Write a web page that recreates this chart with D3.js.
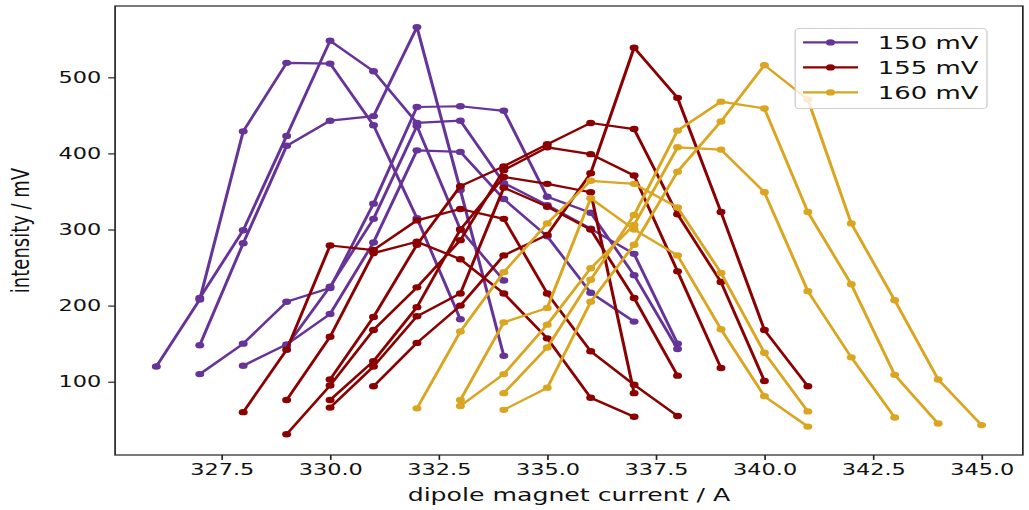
<!DOCTYPE html>
<html>
<head>
<meta charset="utf-8">
<script src="https://cdn.jsdelivr.net/npm/d3@7"></script>
<style>
  body { margin: 0; background: #fff; }
  svg { display: block; font-family: "DejaVu Sans", sans-serif; }
</style>
</head>
<body>
<div id="chart"></div>
<script>
// one list per bias voltage, each scan is [dipole current (A), intensity (mV)]
var scans150 = [
    [[326, 120], [327, 208], [328, 429], [329, 519], [330, 518], [331, 437], [332, 315], [333, 182]],
    [[327, 210], [328, 299], [329, 423], [330, 548], [331, 508], [332, 440], [333, 443], [334, 361], [335, 332], [336, 301], [337, 268], [338, 150]],
    [[327, 148], [328, 282], [329, 410], [330, 443], [331, 449], [332, 566], [333, 352], [334, 134]],
    [[327, 110], [328, 150], [329, 205], [330, 223], [331, 334], [332, 461], [333, 462], [334, 456], [335, 343], [336, 322], [337, 240], [338, 143]],
    [[328, 121], [329, 149], [330, 189], [331, 283], [332, 404], [333, 402], [334, 340], [335, 291], [336, 217], [337, 179]],
    [[329, 147], [330, 225], [331, 314], [332, 436], [333, 300], [334, 233]]
];

var scans155 = [
    [[328, 60], [329, 142], [330, 279], [331, 273], [332, 312], [333, 327], [334, 314], [335, 216], [336, 140], [337, 96], [338, 55]],
    [[329, 76], [330, 159], [331, 269], [332, 284], [333, 261], [334, 216], [335, 157], [336, 79], [337, 54]],
    [[329, 31], [330, 95], [331, 168], [332, 224], [333, 286], [334, 378], [335, 408], [336, 399], [337, 371], [338, 245], [339, 118]],
    [[330, 103], [331, 185], [332, 280], [333, 357], [334, 383], [335, 412], [336, 440], [337, 432], [338, 320], [339, 231], [340, 101]],
    [[330, 76], [331, 127], [332, 198], [333, 300], [334, 369], [335, 360], [336, 349], [337, 85]],
    [[330, 66], [331, 120], [332, 186], [333, 216], [334, 355], [335, 330], [336, 300], [337, 210], [338, 108]],
    [[331, 94], [332, 151], [333, 200], [334, 266], [335, 293], [336, 374], [337, 539], [338, 473], [339, 323], [340, 168], [341, 94]]
];

var scans160 = [
    [[332, 65], [333, 166], [334, 244], [335, 308], [336, 364], [337, 360], [338, 329], [339, 243], [340, 138], [341, 61]],
    [[333, 76], [334, 178], [335, 197], [336, 341], [337, 300], [338, 266], [339, 169], [340, 81], [341, 41]],
    [[333, 68], [334, 110], [335, 175], [336, 249], [337, 306], [338, 408], [339, 405], [340, 349], [341, 219], [342, 132], [343, 53]],
    [[334, 85], [335, 145], [336, 234], [337, 319], [338, 430], [339, 468], [340, 459], [341, 323], [342, 228], [343, 109], [344, 45]],
    [[334, 63], [335, 92], [336, 205], [337, 280], [338, 376], [339, 442], [340, 516], [341, 471], [342, 308], [343, 207], [344, 103], [345, 43]]
];

var seriesLabels = ['150 mV', '155 mV', '160 mV'];
var seriesColors = ['rebeccapurple', 'darkred', 'goldenrod'];
var xTicks = [327.5, 330, 332.5, 335, 337.5, 340, 342.5, 345];
var yTicks = [100, 200, 300, 400, 500];

var svgWidth = 1029;
var svgHeight = 510;

// the picture is squeezed sideways by this factor; draw in plain units, then stretch
var stretch = 1.4;

var plot = { left: 82.2, right: 730.6, top: 6, bottom: 455 };

var svg = d3.select('#chart')
    .append('svg')
    .attr('width', svgWidth)
    .attr('height', svgHeight);

var chartGroup = svg.append('g')
    .attr('transform', `scale(${stretch}, 1)`);

var allScans = [scans150, scans155, scans160];
var allPoints = d3.merge(allScans.map(s => d3.merge(s)));

// matplotlib style 5% margins
var xExt = d3.extent(allPoints, d => d[0]);
var xPad = (xExt[1] - xExt[0]) * 0.05;
var xScale = d3.scaleLinear()
    .domain([xExt[0] - xPad, xExt[1] + xPad])
    .range([plot.left, plot.right]);

var yScale = d3.scaleLinear()
    .domain([3.7, 593.7])
    .range([plot.bottom, plot.top]);

// axes
var bottomAxis = d3.axisBottom(xScale)
    .tickValues(xTicks)
    .tickFormat(d3.format('.1f'))
    .tickSizeInner(4.9)
    .tickSizeOuter(0)
    .tickPadding(4);

var leftAxis = d3.axisLeft(yScale)
    .tickValues(yTicks)
    .tickFormat(d3.format('d'))
    .tickSizeInner(4.9)
    .tickSizeOuter(0)
    .tickPadding(5);

var xAxis = chartGroup.append('g')
    .attr('transform', `translate(0, ${plot.bottom})`)
    .call(bottomAxis);

var yAxis = chartGroup.append('g')
    .attr('transform', `translate(${plot.left}, 0)`)
    .call(leftAxis);

[xAxis, yAxis].forEach(function (ax) {
    ax.select('.domain').remove();
    ax.selectAll('line').attr('stroke', '#222').attr('stroke-width', 1.2);
    ax.selectAll('text')
        .attr('fill', '#111')
        .style('font-family', '"DejaVu Sans", sans-serif')
        .style('font-size', '16px');
});

// data lines, one per scan
var line = d3.line()
    .x(d => xScale(d[0]))
    .y(d => yScale(d[1]));

allScans.forEach(function (scans, i) {
    scans.forEach(function (scan) {
        var g = chartGroup.append('g');
        g.append('path')
            .datum(scan)
            .attr('d', line)
            .attr('fill', 'none')
            .attr('stroke', seriesColors[i])
            .attr('stroke-width', 2.2)
            .attr('stroke-linejoin', 'round');
        g.selectAll('circle')
            .data(scan)
            .enter()
            .append('circle')
            .attr('cx', d => xScale(d[0]))
            .attr('cy', d => yScale(d[1]))
            .attr('r', 3.2)
            .attr('fill', seriesColors[i]);
    });
});

// frame
chartGroup.append('rect')
    .attr('x', plot.left)
    .attr('y', plot.top)
    .attr('width', plot.right - plot.left)
    .attr('height', plot.bottom - plot.top)
    .attr('fill', 'none')
    .attr('stroke', '#222')
    .attr('stroke-width', 1.2);

// axis titles
chartGroup.append('text')
    .attr('x', (plot.left + plot.right) / 2)
    .attr('y', 501)
    .attr('text-anchor', 'middle')
    .attr('fill', '#111')
    .style('font-size', '18px')
    .text('dipole magnet current / A');

chartGroup.append('text')
    .attr('transform', `translate(21, ${(plot.top + plot.bottom) / 2}) rotate(-90)`)
    .attr('text-anchor', 'middle')
    .attr('fill', '#111')
    .style('font-size', '18px')
    .text('intensity / mV');

// legend
var legend = chartGroup.append('g')
    .attr('transform', 'translate(568, 28.6)');

legend.append('rect')
    .attr('width', 137)
    .attr('height', 80)
    .attr('rx', 3)
    .attr('fill', 'white')
    .attr('fill-opacity', 0.8)
    .attr('stroke', '#d0d0d0')
    .attr('stroke-width', 1);

seriesLabels.forEach(function (label, i) {
    var row = legend.append('g')
        .attr('transform', `translate(0, ${13.8 + i * 25})`);
    row.append('line')
        .attr('x1', 5.6)
        .attr('x2', 44.9)
        .attr('stroke', seriesColors[i])
        .attr('stroke-width', 2.2);
    row.append('circle')
        .attr('cx', 25.2)
        .attr('r', 3.2)
        .attr('fill', seriesColors[i]);
    row.append('text')
        .attr('x', 59)
        .attr('y', 6.6)
        .attr('fill', '#111')
        .style('font-size', '18.5px')
        .text(label);
});
</script>
</body>
</html>
